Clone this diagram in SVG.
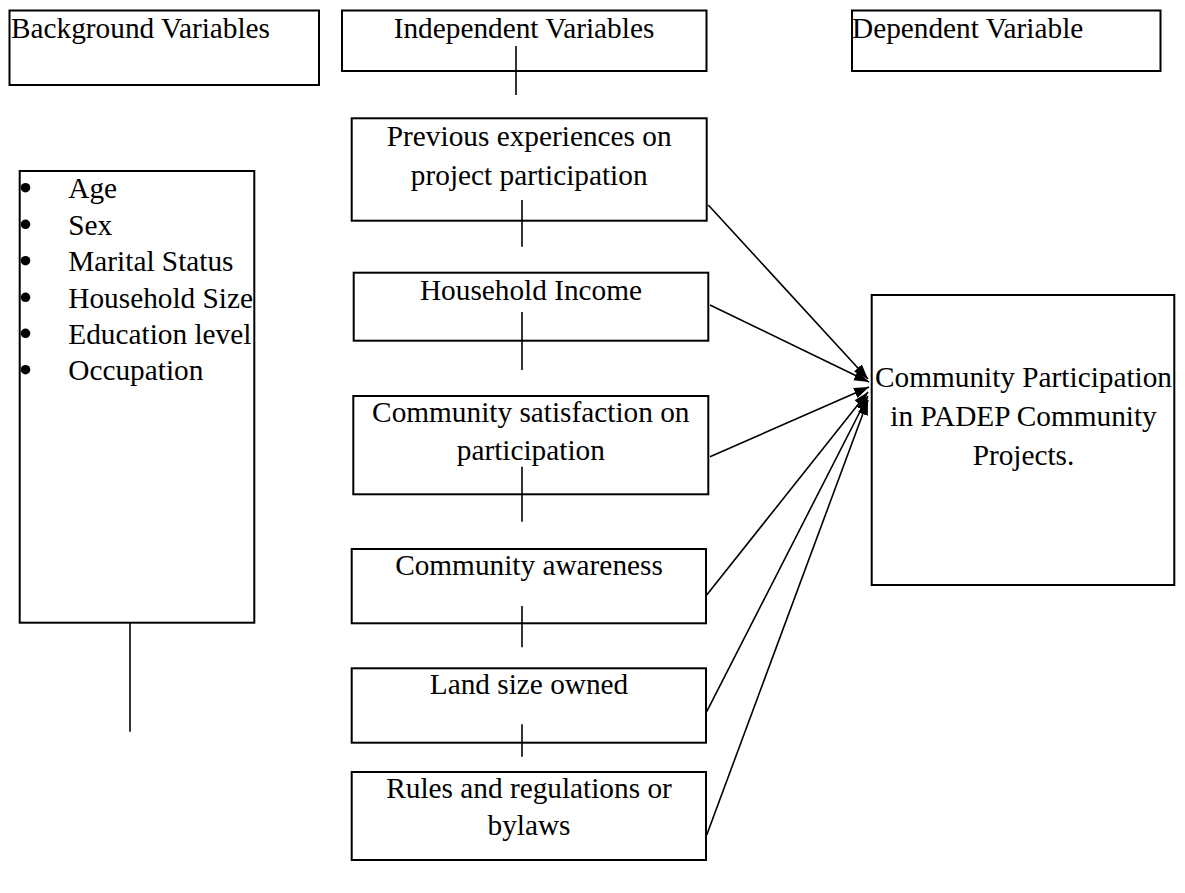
<svg xmlns="http://www.w3.org/2000/svg" width="1185" height="893" viewBox="0 0 1185 893">
<defs>
<style>
.box{fill:#fff;stroke:#000;stroke-width:2}
.t{font-family:"Liberation Serif","Times New Roman",serif;font-size:29.3px;fill:#000}
.c{text-anchor:middle}
.ln{stroke:#000;stroke-width:1.6;fill:none}
.ar{stroke:#000;stroke-width:1.6;fill:none;marker-end:url(#ah)}
</style>
<marker id="ah" viewBox="0 0 14 10" refX="14" refY="5" markerWidth="15" markerHeight="11" markerUnits="userSpaceOnUse" orient="auto">
<path d="M0,0 L14,5 L0,10 Z" fill="#000"/>
</marker>
</defs>
<rect width="1185" height="893" fill="#fff"/>

<g id="bg-header">
<rect class="box" x="9.5" y="10.5" width="309.5" height="74.5"/>
<text class="t" x="11" y="38">Background Variables</text>
</g>
<g id="iv-header">
<rect class="box" x="342" y="10.5" width="364.5" height="60.5"/>
<text class="t c" x="524" y="38">Independent Variables</text>
</g>
<g id="dv-header">
<rect class="box" x="852" y="10.5" width="308.5" height="60.5"/>
<text class="t" x="852" y="38">Dependent Variable</text>
</g>

<g id="bg-list">
<rect class="box" x="19.7" y="171" width="234.6" height="451.7"/>
<circle cx="25.5" cy="187.7" r="4.8"/>
<circle cx="25.5" cy="224.3" r="4.8"/>
<circle cx="25.5" cy="260.7" r="4.8"/>
<circle cx="25.5" cy="297.3" r="4.8"/>
<circle cx="25.5" cy="333.3" r="4.8"/>
<circle cx="25.5" cy="369.7" r="4.8"/>
<text class="t" x="68.3" y="198">Age</text>
<text class="t" x="68.3" y="234.5">Sex</text>
<text class="t" x="68.3" y="271">Marital Status</text>
<text class="t" x="68.3" y="307.5">Household Size</text>
<text class="t" x="68.3" y="343.5">Education level</text>
<text class="t" x="68.3" y="380">Occupation</text>
</g>

<g id="prev">
<rect class="box" x="351.7" y="118.3" width="355" height="102.4"/>
<text class="t c" x="529.2" y="145.7">Previous experiences on</text>
<text class="t c" x="529.2" y="185">project participation</text>
</g>
<g id="income">
<rect class="box" x="353.7" y="272.7" width="354.6" height="68"/>
<text class="t c" x="531" y="300">Household Income</text>
</g>
<g id="satisfaction">
<rect class="box" x="353.3" y="396" width="355" height="98.3"/>
<text class="t c" x="530.8" y="422.3">Community satisfaction on</text>
<text class="t c" x="530.8" y="460">participation</text>
</g>
<g id="awareness">
<rect class="box" x="351.7" y="549" width="354.3" height="74.3"/>
<text class="t c" x="529" y="575">Community awareness</text>
</g>
<g id="land">
<rect class="box" x="351.7" y="668.3" width="354.3" height="74.4"/>
<text class="t c" x="529" y="694">Land size owned</text>
</g>
<g id="rules">
<rect class="box" x="351.7" y="772" width="354.3" height="88"/>
<text class="t c" x="529" y="797.7">Rules and regulations or</text>
<text class="t c" x="529" y="835">bylaws</text>
</g>

<g id="dv">
<rect class="box" x="871.7" y="295" width="302.6" height="290"/>
<text class="t c" x="1023.5" y="387.3">Community Participation</text>
<text class="t c" x="1023.5" y="425.7">in PADEP Community</text>
<text class="t c" x="1023.5" y="465">Projects.</text>
</g>

<g id="connectors">
<line class="ln" x1="130" y1="622.7" x2="130" y2="731.7"/>
<line class="ln" x1="516" y1="46" x2="516" y2="95"/>
<line class="ln" x1="522" y1="200" x2="522" y2="246.7"/>
<line class="ln" x1="522" y1="312" x2="522" y2="370"/>
<line class="ln" x1="522" y1="466.7" x2="522" y2="521.7"/>
<line class="ln" x1="522" y1="606" x2="522" y2="647.3"/>
<line class="ln" x1="522" y1="724.3" x2="522" y2="756.7"/>
<line class="ar" x1="708.3" y1="205" x2="868" y2="379"/>
<line class="ar" x1="710" y1="305" x2="869" y2="382"/>
<line class="ar" x1="710" y1="456.7" x2="869" y2="387"/>
<line class="ar" x1="706.7" y1="595" x2="868" y2="392"/>
<line class="ar" x1="706.7" y1="711.7" x2="868" y2="396"/>
<line class="ar" x1="706.7" y1="835" x2="868" y2="400"/>
</g>
</svg>
